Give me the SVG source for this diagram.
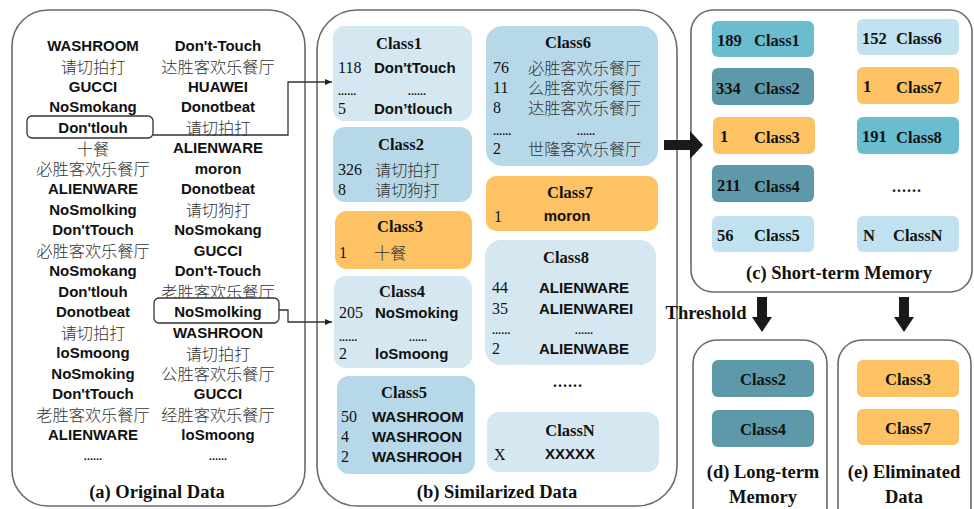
<svg xmlns="http://www.w3.org/2000/svg" width="974" height="509" viewBox="0 0 974 509">
<defs>
<marker id="ah" markerWidth="8" markerHeight="8" refX="7" refY="4" orient="auto" markerUnits="userSpaceOnUse"><path d="M0,1 L7,4 L0,7 z" fill="#222"/></marker>
<style>
.panel{fill:#fff;stroke:#6a6a6a;stroke-width:1.6}
.w{font-family:"Liberation Sans",Arial,sans-serif;font-weight:bold;font-size:15px;fill:#111;dominant-baseline:central}
.zh{font-family:"Noto Sans CJK SC","Noto Sans",sans-serif;font-weight:300;font-size:16.2px;fill:#333;dominant-baseline:central}
.n{font-family:"Liberation Serif","Times New Roman",serif;font-size:16px;fill:#111;dominant-baseline:central}
.t{font-family:"Liberation Serif","Times New Roman",serif;font-weight:bold;font-size:16.5px;fill:#111;dominant-baseline:central}
.cap{font-family:"Liberation Serif","Times New Roman",serif;font-weight:bold;font-size:18.5px;fill:#111;dominant-baseline:central;text-anchor:middle}
.dots{font-family:"Liberation Sans",Arial,sans-serif;font-weight:bold;font-size:11px;fill:#111;dominant-baseline:central}
.m{text-anchor:middle}
.lb{fill:#d5e8f1}.mb{fill:#b7d8e8}.or{fill:#fdc263}
.teal{fill:#6abccf}.dteal{fill:#5e99aa}.lt{fill:#c0e2f0}
.sel{fill:#fff;stroke:#333;stroke-width:1.3}
.con{fill:none;stroke:#333;stroke-width:1.3}
</style>
</defs>

<g id="panel-a">
<rect class="panel" x="12" y="10" width="293" height="496" rx="36"/>
<g id="col1">
<text class="w m" x="93" y="45">WASHROOM</text>
<text class="zh m" x="93" y="65.5">请切拍打</text>
<text class="w m" x="93" y="86">GUCCI</text>
<text class="w m" x="93" y="106.5">NoSmokang</text>
<rect class="sel" x="27" y="116" width="126" height="22" rx="5"/>
<text class="w m" x="93" y="127">Don'tlouh</text>
<text class="zh m" x="93" y="147.5">十餐</text>
<text class="zh m" x="93" y="168">必胜客欢乐餐厅</text>
<text class="w m" x="93" y="188.5">ALIENWARE</text>
<text class="w m" x="93" y="209">NoSmolking</text>
<text class="w m" x="93" y="229.5">Don'tTouch</text>
<text class="zh m" x="93" y="250">必胜客欢乐餐厅</text>
<text class="w m" x="93" y="270.5">NoSmokang</text>
<text class="w m" x="93" y="291">Don'tlouh</text>
<text class="w m" x="93" y="311.5">Donotbeat</text>
<text class="zh m" x="93" y="332">请切拍打</text>
<text class="w m" x="93" y="352.5">loSmoong</text>
<text class="w m" x="93" y="373">NoSmoking</text>
<text class="w m" x="93" y="393.5">Don'tTouch</text>
<text class="zh m" x="93" y="414">老胜客欢乐餐厅</text>
<text class="w m" x="93" y="434.5">ALIENWARE</text>
<text class="dots m" x="93" y="456">......</text>
</g>
<g id="col2">
<text class="w m" x="218" y="45">Don't-Touch</text>
<text class="zh m" x="218" y="65.5">达胜客欢乐餐厅</text>
<text class="w m" x="218" y="86">HUAWEI</text>
<text class="w m" x="218" y="106.5">Donotbeat</text>
<text class="zh m" x="218" y="127">请切拍打</text>
<text class="w m" x="218" y="147.5">ALIENWARE</text>
<text class="w m" x="218" y="168">moron</text>
<text class="w m" x="218" y="188.5">Donotbeat</text>
<text class="zh m" x="218" y="209">请切狗打</text>
<text class="w m" x="218" y="229.5">NoSmokang</text>
<text class="w m" x="218" y="250">GUCCI</text>
<text class="w m" x="218" y="270.5">Don't-Touch</text>
<text class="zh m" x="218" y="291">老胜客欢乐餐厅</text>
<rect class="sel" x="154" y="298" width="125" height="25" rx="5"/>
<text class="w m" x="218" y="311">NoSmolking</text>
<text class="w m" x="218" y="332">WASHROON</text>
<text class="zh m" x="218" y="352.5">请切拍打</text>
<text class="zh m" x="218" y="373">公胜客欢乐餐厅</text>
<text class="w m" x="218" y="393.5">GUCCI</text>
<text class="zh m" x="218" y="414">经胜客欢乐餐厅</text>
<text class="w m" x="218" y="434.5">loSmoong</text>
<text class="dots m" x="218" y="456">......</text>
</g>
<text class="cap" x="157" y="492">(a) Original Data</text>
</g>

<g id="panel-b">
<rect class="panel" x="317" y="10" width="360" height="496" rx="40"/>
<g id="b-class1">
<rect class="lb" x="333" y="26" width="139" height="95" rx="12"/>
<text class="t m" x="399" y="43">Class1</text>
<text class="n" x="338" y="67">118</text>
<text class="w" x="374" y="67">Don'tTouch</text>
<text class="dots" x="338" y="91">......</text>
<text class="dots m" x="417" y="91">......</text>
<text class="n" x="338" y="108">5</text>
<text class="w" x="374" y="108">Don’tlouch</text>
</g>
<g id="b-class2">
<rect class="mb" x="333" y="127" width="139" height="75" rx="12"/>
<text class="t m" x="401" y="144">Class2</text>
<text class="n" x="338" y="169">326</text>
<text class="zh" x="375" y="169">请切拍打</text>
<text class="n" x="338" y="189">8</text>
<text class="zh" x="375" y="189">请切狗打</text>
</g>
<g id="b-class3">
<rect class="or" x="335" y="211" width="137" height="58" rx="12"/>
<text class="t m" x="400" y="226">Class3</text>
<text class="n" x="339" y="252">1</text>
<text class="zh" x="374" y="252">十餐</text>
</g>
<g id="b-class4">
<rect class="lb" x="334" y="276" width="138" height="92" rx="12"/>
<text class="t m" x="402" y="291">Class4</text>
<text class="n" x="339" y="312">205</text>
<text class="w" x="375" y="312">NoSmoking</text>
<text class="dots" x="339" y="337">......</text>
<text class="dots m" x="418" y="337">......</text>
<text class="n" x="339" y="353">2</text>
<text class="w" x="375" y="353">loSmoong</text>
</g>
<g id="b-class5">
<rect class="mb" x="337" y="376" width="138" height="98" rx="12"/>
<text class="t m" x="404" y="392">Class5</text>
<text class="n" x="341" y="416">50</text>
<text class="w" x="372" y="416">WASHROOM</text>
<text class="n" x="341" y="436">4</text>
<text class="w" x="372" y="436">WASHROON</text>
<text class="n" x="341" y="456">2</text>
<text class="w" x="372" y="456">WASHROOH</text>
</g>
<g id="b-class6">
<rect class="mb" x="486" y="26" width="172" height="140" rx="16"/>
<text class="t m" x="568" y="42">Class6</text>
<text class="n" x="493" y="67">76</text>
<text class="zh" x="528" y="67">必胜客欢乐餐厅</text>
<text class="n" x="493" y="87">11</text>
<text class="zh" x="528" y="87">么胜客欢乐餐厅</text>
<text class="n" x="493" y="107">8</text>
<text class="zh" x="528" y="107">达胜客欢乐餐厅</text>
<text class="dots" x="493" y="131">......</text>
<text class="dots m" x="586" y="131">......</text>
<text class="n" x="493" y="148">2</text>
<text class="zh" x="528" y="148">世隆客欢乐餐厅</text>
</g>
<g id="b-class7">
<rect class="or" x="486" y="176" width="172" height="55" rx="10"/>
<text class="t m" x="570" y="192">Class7</text>
<text class="n" x="494" y="216">1</text>
<text class="w m" x="567" y="215">moron</text>
</g>
<g id="b-class8">
<rect class="lb" x="485" y="240" width="171" height="125" rx="16"/>
<text class="t m" x="566" y="257">Class8</text>
<text class="n" x="492" y="287">44</text>
<text class="w" x="539" y="287">ALIENWARE</text>
<text class="n" x="492" y="308">35</text>
<text class="w" x="539" y="308">ALIENWAREI</text>
<text class="dots" x="492" y="330">......</text>
<text class="dots m" x="584" y="330">......</text>
<text class="n" x="492" y="348">2</text>
<text class="w" x="539" y="348">ALIENWABE</text>
</g>
<text class="t m" x="568" y="381" style="font-size:16px;letter-spacing:1px">......</text>
<g id="b-classN">
<rect class="lb" x="487" y="412" width="172" height="60" rx="12"/>
<text class="t m" x="570" y="430">ClassN</text>
<text class="n" x="494" y="454">X</text>
<text class="w m" x="570" y="453">XXXXX</text>
</g>
<text class="cap" x="497" y="492">(b) Similarized Data</text>
</g>

<g id="panel-c">
<rect class="panel" x="691" y="10" width="281" height="282" rx="22"/>
<g id="c-class1"><rect class="teal" x="712" y="21" width="102" height="36" rx="6"/><text class="t" x="717" y="40">189</text><text class="t" x="754" y="40">Class1</text></g>
<g id="c-class2"><rect class="dteal" x="712" y="68" width="102" height="37" rx="6"/><text class="t" x="716" y="88">334</text><text class="t" x="754" y="88">Class2</text></g>
<g id="c-class3"><rect class="or" x="713" y="117" width="102" height="37" rx="6"/><text class="t" x="720" y="136">1</text><text class="t" x="754" y="137">Class3</text></g>
<g id="c-class4"><rect class="dteal" x="712" y="165" width="102" height="37" rx="6"/><text class="t" x="717" y="185">211</text><text class="t" x="754" y="186">Class4</text></g>
<g id="c-class5"><rect class="lt" x="712" y="216" width="102" height="36" rx="6"/><text class="t" x="717" y="235">56</text><text class="t" x="754" y="235">Class5</text></g>
<g id="c-class6"><rect class="lt" x="857" y="19" width="102" height="36" rx="6"/><text class="t" x="862" y="38">152</text><text class="t" x="896" y="38">Class6</text></g>
<g id="c-class7"><rect class="or" x="857" y="67" width="102" height="37" rx="6"/><text class="t" x="863" y="86">1</text><text class="t" x="896" y="87">Class7</text></g>
<g id="c-class8"><rect class="teal" x="857" y="117" width="102" height="37" rx="6"/><text class="t" x="862" y="136">191</text><text class="t" x="896" y="137">Class8</text></g>
<text class="t m" x="907" y="186" style="font-size:16px;letter-spacing:1px">......</text>
<g id="c-classN"><rect class="lt" x="857" y="216" width="102" height="36" rx="6"/><text class="t" x="863" y="235">N</text><text class="t" x="893" y="235">ClassN</text></g>
<text class="cap" x="839" y="273">(c) Short-term Memory</text>
</g>

<g id="panel-d">
<rect class="panel" x="693" y="340" width="134" height="200" rx="24"/>
<rect class="dteal" x="712" y="360" width="102" height="37" rx="6"/>
<text class="t m" x="763" y="379">Class2</text>
<rect class="dteal" x="712" y="410" width="102" height="37" rx="6"/>
<text class="t m" x="763" y="429">Class4</text>
<text class="cap" x="763" y="472">(d) Long-term</text>
<text class="cap" x="763" y="497">Memory</text>
</g>

<g id="panel-e">
<rect class="panel" x="838" y="340" width="133" height="200" rx="24"/>
<rect class="or" x="857" y="360" width="102" height="37" rx="6"/>
<text class="t m" x="908" y="379">Class3</text>
<rect class="or" x="857" y="409" width="102" height="36" rx="6"/>
<text class="t m" x="908" y="428">Class7</text>
<text class="cap" x="904" y="472">(e) Eliminated</text>
<text class="cap" x="904" y="497">Data</text>
</g>

<g id="connectors">
<polyline class="con" points="153,135 288,135 288,82 332,82" marker-end="url(#ah)"/>
<polyline class="con" points="279,310 288,310 288,322 332,322" marker-end="url(#ah)"/>
<path d="M664,140 L690,140 L690,131 L703,145 L690,159 L690,150 L664,150 z" fill="#1a1a1a"/>
<path d="M757,297 L767,297 L767,317 L772,317 L762,332 L752,317 L757,317 z" fill="#1a1a1a"/>
<path d="M899,297 L909,297 L909,317 L914,317 L904,332 L894,317 L899,317 z" fill="#1a1a1a"/>
<text class="cap" x="706" y="313">Threshold</text>
</g>
</svg>
